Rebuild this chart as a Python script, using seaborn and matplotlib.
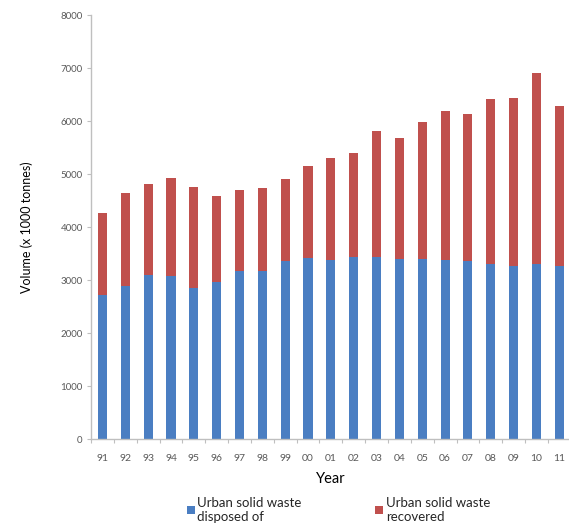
import matplotlib
matplotlib.use("Agg")
import matplotlib.pyplot as plt
from matplotlib.patches import Patch
from matplotlib.ticker import FixedLocator
import pandas as pd
import seaborn as sns

years = ["91", "92", "93", "94", "95", "96", "97", "98", "99", "00", "01",
         "02", "03", "04", "05", "06", "07", "08", "09", "10", "11"]
disposed = [2720, 2890, 3090, 3080, 2860, 2960, 3170, 3180, 3360, 3410, 3380,
            3440, 3440, 3400, 3400, 3380, 3360, 3300, 3270, 3300, 3270]
recovered = [1540, 1760, 1730, 1850, 1900, 1630, 1530, 1560, 1550, 1750, 1930,
             1950, 2380, 2280, 2580, 2820, 2780, 3120, 3160, 3610, 3010]

BLUE = "#4A7EC2"
RED = "#C0504D"
GREY = "#595959"

df = pd.DataFrame({"year": years, "disposed": disposed, "recovered": recovered})
df["total"] = df["disposed"] + df["recovered"]

sns.set_theme(style="white")
plt.rcParams["font.family"] = ["Lato", "DejaVu Sans"]

fig = plt.figure(figsize=(5.69, 5.24), dpi=100)
ax = fig.add_axes([0.16, 0.162, 0.843, 0.809])

# stacked bars: full height in red, disposed part drawn over it in blue
sns.barplot(data=df, x="year", y="total", color=RED, width=0.4,
            saturation=1, linewidth=0, ax=ax, order=years)
sns.barplot(data=df, x="year", y="disposed", color=BLUE, width=0.4,
            saturation=1, linewidth=0, ax=ax, order=years)

ax.set_xlim(-0.5, len(years) - 0.5)
ax.set_ylim(0, 8000)
ax.set_yticks(range(0, 8001, 1000))

for side in ("top", "right"):
    ax.spines[side].set_visible(False)
for side in ("left", "bottom"):
    ax.spines[side].set_color("#BFBFBF")
    ax.spines[side].set_linewidth(1.0)

ax.tick_params(axis="y", which="major", left=True, length=3, width=0.8,
               color="#BFBFBF", labelsize=7, labelcolor=GREY, pad=3)
ax.tick_params(axis="x", which="major", bottom=False, labelsize=7.5,
               labelcolor=GREY, pad=5)
ax.xaxis.set_minor_locator(FixedLocator([i - 0.5 for i in range(len(years) + 1)]))
ax.tick_params(axis="x", which="minor", bottom=True, length=3, width=0.8,
               color="#BFBFBF")

ax.set_xlabel("Year", fontsize=10.5, color="black", labelpad=6)
ax.set_ylabel("Volume (x 1000 tonnes)", fontsize=9, color="black", labelpad=20)

handles = [Patch(facecolor=BLUE, edgecolor="none"),
           Patch(facecolor=RED, edgecolor="none")]
labels = ["Urban solid waste\ndisposed of", "Urban solid waste\nrecovered"]
fig.legend(handles, labels, loc="center", bbox_to_anchor=(0.595, 0.027),
           ncol=2, frameon=False, fontsize=9.5, handlelength=0.6,
           handleheight=0.6, handletextpad=0.2, columnspacing=5.6,
           labelspacing=0.2)

fig.savefig("out.png", dpi=100)
